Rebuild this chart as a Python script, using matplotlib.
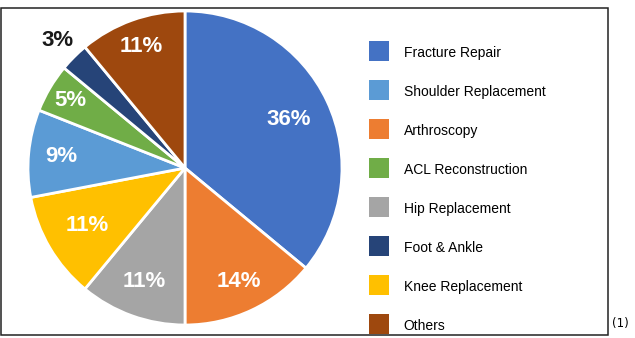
import matplotlib
matplotlib.use('Agg')
import matplotlib.pyplot as plt
import numpy as np
from matplotlib.patches import Rectangle
from matplotlib.lines import Line2D

# data, clockwise from 12 o'clock
categories = ['Fracture Repair', 'Arthroscopy', 'Hip Replacement', 'Knee Replacement',
              'Shoulder Replacement', 'ACL Reconstruction', 'Foot & Ankle', 'Others']
shares = [36, 14, 11, 11, 9, 5, 3, 11]
colors = ['#4472C4', '#ED7D31', '#A5A5A5', '#FFC000',
          '#5B9BD5', '#70AD47', '#264478', '#9E480E']
legend_order = ['Fracture Repair', 'Shoulder Replacement', 'Arthroscopy', 'ACL Reconstruction',
                'Hip Replacement', 'Foot & Ankle', 'Knee Replacement', 'Others']

# label distance from centre, per slice (fraction of radius)
label_r = [0.73, 0.80, 0.77, 0.72, 0.79, 0.85, 1.15, 0.82]

plt.rcParams['font.family'] = ['Liberation Sans', 'DejaVu Sans']

W, H = 635, 338
fig = plt.figure(figsize=(W / 100, H / 100), dpi=100)

cx, cy, r = 185, 168, 157
ax = fig.add_axes([(cx - r) / W, (H - cy - r) / H, 2 * r / W, 2 * r / H])
wedges, texts, autotexts = ax.pie(
    shares, colors=colors, startangle=90, counterclock=False,
    autopct=lambda p: f'{p:.0f}%', pctdistance=0.78,
    wedgeprops=dict(edgecolor='white', linewidth=2),
    textprops=dict(color='white', fontsize=16, fontweight='bold'))
ax.set_xlim(-1, 1)
ax.set_ylim(-1, 1)
ax.set_aspect('equal')

for w, t, rr in zip(wedges, autotexts, label_r):
    ang = np.deg2rad((w.theta1 + w.theta2) / 2)
    t.set_position((rr * np.cos(ang), rr * np.sin(ang)))
    if rr > 1:
        t.set_color('#1a1a1a')

# square legend markers
handles = [Line2D([], [], marker='s', markersize=15, linestyle='none', markeredgewidth=0,
                  markerfacecolor=colors[categories.index(c)]) for c in legend_order]
fig.legend(handles, legend_order, loc='upper left',
           bbox_to_anchor=(369 / W, (H - 44) / H), frameon=False,
           fontsize=10, handlelength=1.5, handleheight=1.5,
           handletextpad=1.0, labelspacing=1.59, borderpad=0, borderaxespad=0)

fig.add_artist(Rectangle((1 / W, 3 / H), 607 / W, 327 / H, transform=fig.transFigure,
                         fill=False, edgecolor='#222222', linewidth=1.1, zorder=10))
fig.text(612 / W, (H - 323) / H, '(1)', fontsize=8.5, va='center', ha='left',
         family='DejaVu Sans')

fig.savefig('out.png', dpi=100)
